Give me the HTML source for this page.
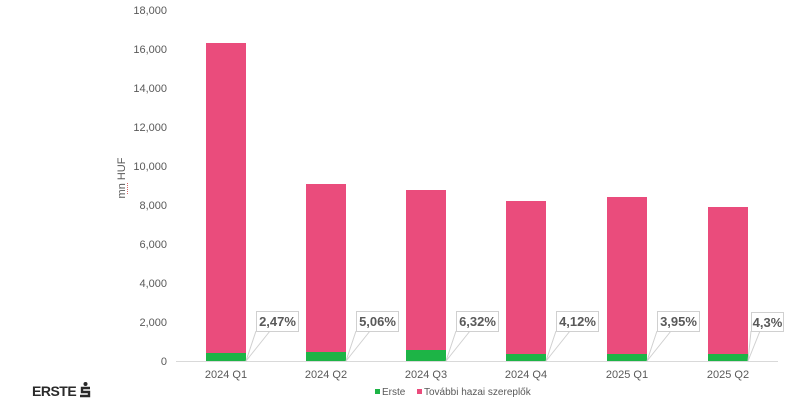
<!DOCTYPE html>
<html><head><meta charset="utf-8"><style>
html,body{margin:0;padding:0;background:#fff;}
svg{display:block;font-family:"Liberation Sans",Arial,sans-serif;}
</style></head><body>
<svg width="808" height="410" viewBox="0 0 808 410" xmlns="http://www.w3.org/2000/svg">
<g font-size="11" fill="#595959" text-anchor="end">
<text x="167" y="14">18,000</text>
<text x="167" y="53">16,000</text>
<text x="167" y="92">14,000</text>
<text x="167" y="131">12,000</text>
<text x="167" y="170">10,000</text>
<text x="167" y="209">8,000</text>
<text x="167" y="248">6,000</text>
<text x="167" y="287">4,000</text>
<text x="167" y="326">2,000</text>
<text x="167" y="365">0</text>
</g>
<text transform="translate(125,178) rotate(-90)" font-size="11" fill="#595959" text-anchor="middle">mn HUF</text>
<line x1="127.5" y1="183" x2="127.5" y2="195" stroke="#d04040" stroke-width="0.8" stroke-dasharray="1,1"/>
<line x1="176" y1="361.5" x2="778" y2="361.5" stroke="#d9d9d9" stroke-width="1"/>
<g fill="#ea4c7c">
<rect x="206" y="43" width="40" height="318"/>
<rect x="306" y="184" width="40" height="177"/>
<rect x="406" y="190" width="40" height="171"/>
<rect x="506" y="201" width="40" height="160"/>
<rect x="607" y="197" width="40" height="164"/>
<rect x="708" y="207" width="40" height="154"/>
</g>
<g fill="#1db446">
<rect x="206" y="353" width="40" height="8"/>
<rect x="306" y="352" width="40" height="9"/>
<rect x="406" y="350" width="40" height="11"/>
<rect x="506" y="354" width="40" height="7"/>
<rect x="607" y="354" width="40" height="7"/>
<rect x="708" y="354" width="40" height="7"/>
</g>
<g stroke="#d0d0d0" stroke-width="1" fill="none">
<path d="M246 361 L256 331 M246 361 L270 331"/>
<path d="M346 361 L356 331 M346 361 L370 331"/>
<path d="M446 361 L456 331 M446 361 L470 331"/>
<path d="M546 361 L556 331 M546 361 L570 331"/>
<path d="M647 361 L657 331 M647 361 L671 331"/>
<path d="M748 361 L751 331 M748 361 L760 331"/>
</g>
<g fill="#fff" stroke="#d0d0d0" stroke-width="1">
<rect x="256.5" y="311.5" width="42" height="20"/>
<rect x="356.5" y="311.5" width="42" height="20"/>
<rect x="456.5" y="311.5" width="42" height="20"/>
<rect x="556.5" y="311.5" width="42" height="20"/>
<rect x="657.5" y="311.5" width="42" height="20"/>
<rect x="751.5" y="312.5" width="32" height="19"/>
</g>
<g font-size="13" font-weight="bold" fill="#595959" text-anchor="middle">
<text x="277.5" y="326">2,47%</text>
<text x="377.5" y="326">5,06%</text>
<text x="477.5" y="326">6,32%</text>
<text x="577.5" y="326">4,12%</text>
<text x="678.5" y="326">3,95%</text>
<text x="767.5" y="327">4,3%</text>
</g>
<g font-size="11" fill="#595959" text-anchor="middle">
<text x="226" y="378">2024 Q1</text>
<text x="326" y="378">2024 Q2</text>
<text x="426" y="378">2024 Q3</text>
<text x="526" y="378">2024 Q4</text>
<text x="627" y="378">2025 Q1</text>
<text x="728" y="378">2025 Q2</text>
</g>
<rect x="375" y="389" width="5" height="5" fill="#1db446"/>
<text x="382" y="395" font-size="10" fill="#595959">Erste</text>
<rect x="417" y="389" width="5" height="5" fill="#ea4c7c"/>
<text x="424" y="395" font-size="10" fill="#595959">További hazai szereplők</text>
<text x="32" y="396" font-size="14" font-weight="bold" fill="#2a2a2a" letter-spacing="-0.5">ERSTE</text>
<circle cx="85.5" cy="384" r="2" fill="#2a2a2a"/>
<path d="M90 388 H82 V392 H89 V396 H80" stroke="#2a2a2a" stroke-width="2.4" fill="none"/>
</svg>
</body></html>
